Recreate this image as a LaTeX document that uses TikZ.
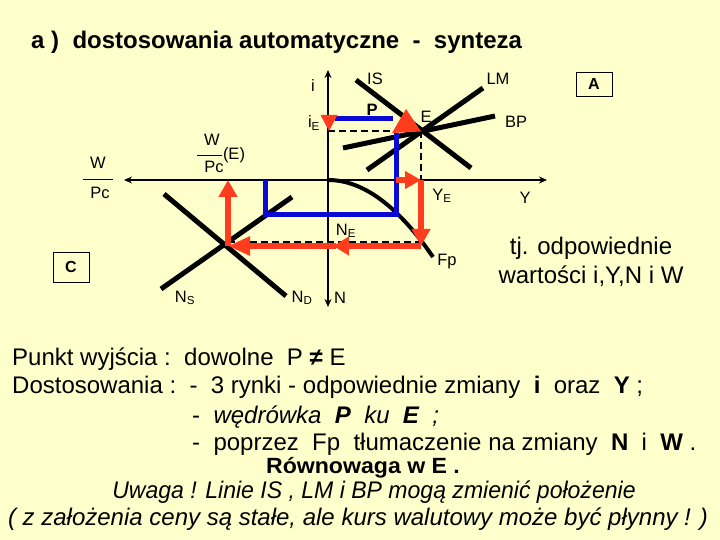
\documentclass[tikz,border=0pt]{standalone}
\usepackage{fontspec}
\setmainfont{Liberation Sans}
\usetikzlibrary{arrows.meta,calc}
\definecolor{bgcol}{RGB}{255,255,204}
\definecolor{myred}{RGB}{255,60,30}
\definecolor{myblue}{RGB}{10,10,210}
\begin{document}
\begin{tikzpicture}[x=1pt,y=-1pt,
  thickline/.style={line width=5pt,black},
  axisline/.style={line width=1.5pt,black},
  dashline/.style={line width=2pt,black,dash pattern=on 7pt off 4pt},
  blueline/.style={line width=5pt,myblue,line join=miter},
  redline/.style={line width=6pt,myred},
  redtip/.style={-{Triangle[length=17pt,width=18pt]}},
  lbl/.style={inner sep=0pt,font=\fontsize{16.5}{18}\selectfont},
  boxlbl/.style={draw,line width=0.8pt,minimum width=36pt,minimum height=24pt,inner sep=0pt,font=\fontsize{16}{18}\selectfont\bfseries},
  txt/.style={inner sep=0pt,anchor=base west,font=\fontsize{24}{28}\selectfont},
  ctxt/.style={inner sep=0pt,anchor=base,font=\fontsize{24}{28}\selectfont}]
\fill[bgcol] (0,0) rectangle (720,540);
\useasboundingbox (0,0) rectangle (720,540);

% title
\node[inner sep=0pt,anchor=base west,font=\fontsize{24}{28}\selectfont\bfseries] (title) at (31,49) {a )\ \ dostosowania automatyczne\ \ -\ \ synteza};

% key points
\coordinate (O) at (328,180);
\coordinate (E) at (421,131);
\coordinate (iE) at (328,131);
\coordinate (YE) at (421,180);
\coordinate (F) at (421,246);
\coordinate (Wn) at (228,246);
\coordinate (WE) at (228,180);
\coordinate (dL) at (228,242);
\coordinate (dR) at (421,242);

% axes
\coordinate (itop) at (328,70);
\coordinate (nbot) at (328,307);
\coordinate (yright) at (547,180);
\coordinate (wleft) at (124,180);
\draw[axisline,{Stealth[length=8pt,width=7pt]}-{Stealth[length=8pt,width=7pt]}] (itop) -- (nbot);
\draw[axisline,{Stealth[length=8pt,width=7pt]}-{Stealth[length=8pt,width=7pt]}] (wleft) -- (yright);

% dashed guides
\draw[dashline] (iE) -- (E);
\draw[dashline] (E) -- (YE);
\draw[dashline] (dL) -- (dR);

% IS, LM, BP
\coordinate (is1) at (356,80); \coordinate (is2) at (471,168);
\coordinate (lm1) at (367,170); \coordinate (lm2) at (483,88);
\coordinate (bp1) at (343,148); \coordinate (bp2) at (495,116);
\draw[thickline] (is1) -- (is2);
\draw[thickline] (lm1) -- (lm2);
\draw[thickline] (bp1) -- (bp2);

% Fp curve
\draw[line width=4pt] (O) .. controls (363,180) and (398,206) .. (433,257);

% labour market lines
\coordinate (nd1) at (164,194); \coordinate (nd2) at (286,296);
\coordinate (ns1) at (161,289); \coordinate (ns2) at (292,197);
\draw[thickline] (nd1) -- (nd2);
\draw[thickline] (ns1) -- (ns2);

% blue path
\coordinate (P1) at (335,119); \coordinate (P2) at (393,119);
\draw[blueline] (P1) -- (P2);
\draw[blueline] (265,180) -- (265,215) -- (396,215) -- (396,133);

% red arrows
\fill[myred] (320.5,115) -- (337.5,115) -- (329,131) -- cycle;
\fill[myred] (406,109) -- (392,133) -- (421,131.5) -- cycle;
\draw[redline,-{Triangle[length=16pt,width=17pt]}] (396,180) -- (YE);
\draw[redline,redtip] (YE) -- (F);
\draw[redline,-{Triangle[length=16pt,width=18pt]}] (F) -- (333,246);
\draw[redline,-{Triangle[length=22pt,width=18pt]}] (336,246) -- (Wn);
\draw[redline,redtip] (Wn) -- (WE);

% labels
\node[lbl] (li) at (313,86) {i};
\node[lbl] (liE) at (314,123) {i\textsubscript{E}};
\node[lbl] (lIS) at (375,79) {IS};
\node[lbl] (lLM) at (498,79) {LM};
\node[lbl] (lBP) at (516,122) {BP};
\node[lbl] (lE) at (426,117) {E};
\node[lbl,font=\fontsize{16.5}{18}\selectfont\bfseries] (lP) at (372,110) {P};
\node[lbl] (lYE) at (442,196) {Y\textsubscript{E}};
\node[lbl] (lY) at (525,198) {Y};
\node[lbl] (lNE) at (346,231) {N\textsubscript{E}};
\node[lbl] (lFp) at (447,262) {Fp};
\node[lbl] (lN) at (340,298) {N};
\node[lbl] (lNS) at (185,298) {N\textsubscript{S}};
\node[lbl] (lND) at (302,298) {N\textsubscript{D}};

% W/Pc (E)
\node[lbl] (wE) at (212,140) {W};
\node[lbl] (pcE) at (214,167) {Pc};
\draw[line width=1pt] (197,156) -- (222,156);
\node[lbl] (eE) at (234,155) {(E)};
% W/Pc left
\node[lbl] (wL) at (98,163) {W};
\node[lbl] (pcL) at (100,193) {Pc};
\draw[line width=1pt] (83,180) -- (113,180);

% boxes
\node[boxlbl] (boxA) at (594,84) {A};
\node[boxlbl,minimum height=30pt] (boxC) at (71,267) {C};

% right note
\node[inner sep=0pt,align=center,font=\fontsize{24}{29}\selectfont] (note) at (591,262) {tj. odpowiednie\\wartości i,Y,N i W};

% bottom text
\node[txt] (t1) at (12,365) {Punkt wyjścia :\ \ dowolne\ \ P \textbf{≠}\ E};
\node[txt] (t2) at (12,393) {Dostosowania :\ \ -\ \ 3 rynki - odpowiednie zmiany\ \ \textbf{i}\ \ oraz\ \ \textbf{Y} ;};
\node[txt] (t3) at (192,423) {-\ \ \textit{wędrówka\ \ \textbf{P}\ \ ku\ \ \textbf{E}\ \ ;}};
\node[txt] (t4) at (192,450) {-\ \ poprzez\ \ Fp\ \ tłumaczenie na zmiany\ \ \textbf{N}\ \ i\ \ \textbf{W} .};
\node[ctxt,font=\fontsize{22}{26}\selectfont\bfseries] (t5) at (363,473) {\scalebox{1.05}[1]{Równowaga w E .}};
\node[ctxt,font=\fontsize{24}{28}\selectfont\itshape] (t6) at (374,498) {\scalebox{0.96}[1]{Uwaga ! Linie IS , LM i BP mogą zmienić położenie}};
\node[ctxt,font=\fontsize{24}{28}\selectfont\itshape] (t7) at (358,525) {( z założenia ceny są stałe, ale kurs walutowy może być płynny ! )};
\end{tikzpicture}
\end{document}
